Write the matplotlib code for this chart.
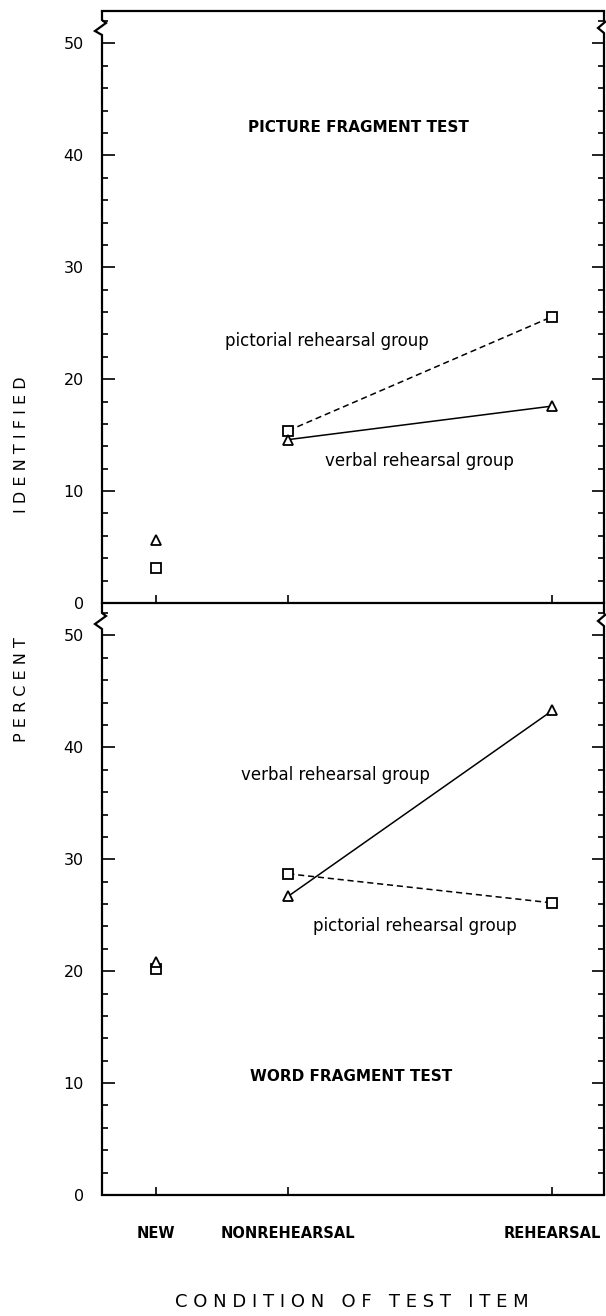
import matplotlib
matplotlib.use('Agg')
import matplotlib.pyplot as plt
from matplotlib.lines import Line2D
from matplotlib.ticker import MultipleLocator

# condition of test item, with its x position
conditions = ['NEW', 'NONREHEARSAL', 'REHEARSAL']
cond_x = [1, 2, 4]

# percent identified, picture fragment test
picture_pictorial = [3.1, 15.4, 25.6]
picture_verbal = [5.6, 14.6, 17.6]

# percent identified, word fragment test
word_pictorial = [20.2, 28.7, 26.1]
word_verbal = [20.8, 26.7, 43.3]

W, H = 606, 1316
DPI = 100
X0, X1 = 102, 604          # axes left/right in pixels
TOP0, MID, BOT = 11, 603, 1195
YMAX = 52.9

fig = plt.figure(figsize=(W / DPI, H / DPI), dpi=DPI)
plt.rcParams['font.family'] = ['DejaVu Sans']


def px_axes(y_top, y_bot):
    return fig.add_axes([X0 / W, 1 - y_bot / H, (X1 - X0) / W, (y_bot - y_top) / H])


def fig_line(pts, lw=1.6):
    xs = [p[0] / W for p in pts]
    ys = [1 - p[1] / H for p in pts]
    fig.add_artist(Line2D(xs, ys, transform=fig.transFigure, color='black',
                          lw=lw, solid_joinstyle='miter', solid_capstyle='butt'))


def style(ax, show_xlabels):
    ax.set_xlim(0.59, 4.39)
    ax.set_ylim(0, YMAX)
    ax.set_xticks(cond_x)
    if show_xlabels:
        ax.set_xticklabels(conditions, fontsize=10.5, fontweight='semibold')
    else:
        ax.set_xticklabels([])
    ax.set_yticks(range(0, 51, 10))
    ax.yaxis.set_minor_locator(MultipleLocator(2))
    ax.tick_params(axis='y', which='major', direction='in', length=9, width=1.2,
                   left=True, right=True, labelsize=11.5, pad=13)
    ax.tick_params(axis='y', which='minor', direction='in', length=4, width=1.2,
                   left=True, right=True)
    ax.tick_params(axis='x', which='major', direction='in', length=6, width=1.2,
                   pad=22)
    ax.spines['left'].set_visible(False)
    ax.spines['right'].set_visible(False)
    ax.spines['bottom'].set_linewidth(1.6)
    ax.patch.set_alpha(0)


def draw_group(ax, pictorial, verbal):
    ax.plot(cond_x[1:], pictorial[1:], color='black', lw=1.1, ls=(0, (4, 2.5)),
            marker='s', mfc='white', mec='black', ms=7, mew=1.3, zorder=3)
    ax.plot(cond_x[1:], verbal[1:], color='black', lw=1.1, ls='-',
            marker='^', mfc='white', mec='black', ms=7, mew=1.3, zorder=3)
    ax.plot(cond_x[0], pictorial[0], ls='none', marker='s', mfc='white',
            mec='black', ms=7, mew=1.3)
    ax.plot(cond_x[0], verbal[0], ls='none', marker='^', mfc='white',
            mec='black', ms=7, mew=1.3)


# top panel: picture fragment test
ax1 = px_axes(TOP0, MID)
style(ax1, False)
ax1.spines['top'].set_linewidth(1.6)
draw_group(ax1, picture_pictorial, picture_verbal)
ax1.text(0.51, 0.804, 'PICTURE FRAGMENT TEST', transform=ax1.transAxes,
         ha='center', va='center', fontsize=11, fontweight='semibold')
ax1.text(0.447, 0.443, 'pictorial rehearsal group', transform=ax1.transAxes,
         ha='center', va='center', fontsize=12)
ax1.text(0.633, 0.24, 'verbal rehearsal group', transform=ax1.transAxes,
         ha='center', va='center', fontsize=12)

# bottom panel: word fragment test
ax2 = px_axes(MID, BOT)
style(ax2, True)
ax2.spines['top'].set_visible(False)
draw_group(ax2, word_pictorial, word_verbal)
ax2.text(0.497, 0.2, 'WORD FRAGMENT TEST', transform=ax2.transAxes,
         ha='center', va='center', fontsize=11, fontweight='semibold')
ax2.text(0.466, 0.71, 'verbal rehearsal group', transform=ax2.transAxes,
         ha='center', va='center', fontsize=12)
ax2.text(0.624, 0.454, 'pictorial rehearsal group', transform=ax2.transAxes,
         ha='center', va='center', fontsize=12)

# side spines with the broken-axis zigzags
fig_line([(X0, TOP0), (X0, 20), (X0 + 4, 23), (X0 - 7, 31), (X0, 35), (X0, MID)])
fig_line([(X1, TOP0), (X1, 20), (X1 + 1, 22), (X1 - 6, 28), (X1, 33), (X1, MID)])
fig_line([(X0, MID), (X0, 613), (X0 + 4, 616), (X0 - 7, 624), (X0, 629), (X0, BOT)])
fig_line([(X1, MID), (X1, 613), (X1 + 1, 615), (X1 - 6, 621), (X1, 626), (X1, BOT)])

# axis titles
fig.text(22 / W, 1 - 445 / H, 'I D E N T I F I E D', rotation=90,
         ha='center', va='center', fontsize=11.5)
fig.text(22 / W, 1 - 690 / H, 'P E R C E N T', rotation=90,
         ha='center', va='center', fontsize=11.5)
fig.text(352 / W, 1 - 1302 / H, 'C O N D I T I O N   O F   T E S T   I T E M',
         ha='center', va='center', fontsize=13)

fig.savefig('out.png', dpi=DPI)
